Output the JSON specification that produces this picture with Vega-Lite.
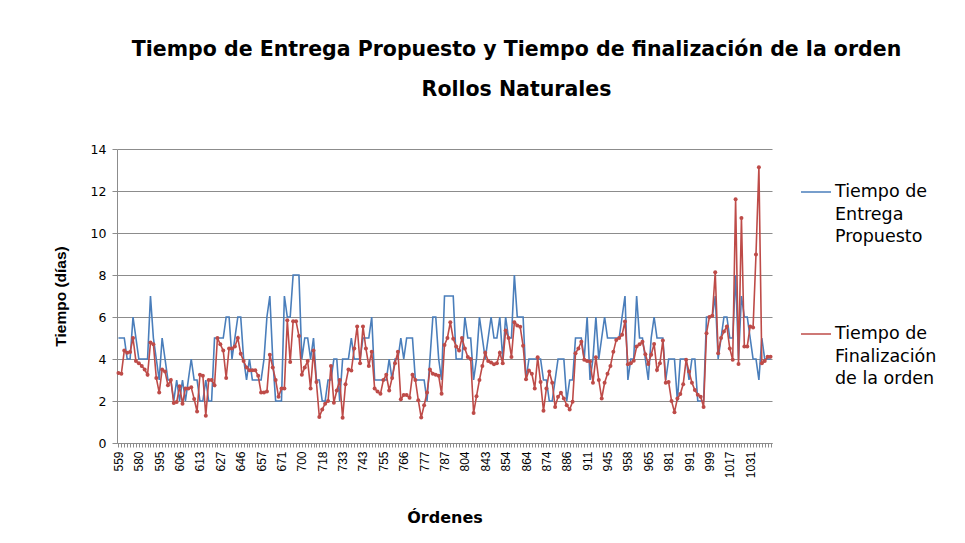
{
"$schema":"https://vega.github.io/schema/vega-lite/v6.json",
"width":655,"height":294,
"autosize":{"type":"none"},
"padding":{"left":117,"top":149,"right":193,"bottom":100},
"background":"white",
"config":{"font":"Liberation Sans","view":{"stroke":null}},
"title":{"text":["Tiempo de Entrega Propuesto y Tiempo de finalización de la orden","Rollos Naturales"],"font":"DejaVu Sans","fontSize":20.5,"fontWeight":"bold","color":"#000000","anchor":"middle","dx":72,"lineHeight":40,"offset":43},
"data":{"values":[
{"orden":559,"entrega":5,"finalizacion":3.33},{"orden":562,"entrega":5,"finalizacion":3.3},{"orden":565,"entrega":5,"finalizacion":4.4},{"orden":568,"entrega":4,"finalizacion":4.3},{"orden":571,"entrega":4,"finalizacion":4.33},{"orden":574,"entrega":6,"finalizacion":5.0},{"orden":577,"entrega":5,"finalizacion":3.9},
{"orden":580,"entrega":4,"finalizacion":3.8},{"orden":582,"entrega":4,"finalizacion":3.67},{"orden":584,"entrega":4,"finalizacion":3.5},{"orden":586,"entrega":4,"finalizacion":3.25},{"orden":588,"entrega":7,"finalizacion":4.78},{"orden":590,"entrega":5,"finalizacion":4.7},{"orden":593,"entrega":4,"finalizacion":3.1},
{"orden":595,"entrega":3,"finalizacion":2.4},{"orden":596,"entrega":5,"finalizacion":3.5},{"orden":598,"entrega":4,"finalizacion":3.4},{"orden":600,"entrega":3,"finalizacion":2.75},{"orden":601,"entrega":3,"finalizacion":3.0},{"orden":603,"entrega":2,"finalizacion":1.9},{"orden":604,"entrega":3,"finalizacion":1.95},
{"orden":606,"entrega":2,"finalizacion":2.7},{"orden":607,"entrega":3,"finalizacion":1.87},{"orden":608,"entrega":2,"finalizacion":2.6},{"orden":609,"entrega":3,"finalizacion":2.6},{"orden":610,"entrega":4,"finalizacion":2.65},{"orden":611,"entrega":3,"finalizacion":2.1},{"orden":612,"entrega":3,"finalizacion":1.5},
{"orden":613,"entrega":2,"finalizacion":3.25},{"orden":615,"entrega":2,"finalizacion":3.2},{"orden":617,"entrega":3,"finalizacion":1.3},{"orden":619,"entrega":2,"finalizacion":3.0},{"orden":621,"entrega":2,"finalizacion":3.0},{"orden":623,"entrega":5,"finalizacion":2.75},{"orden":625,"entrega":5,"finalizacion":5.0},
{"orden":627,"entrega":5,"finalizacion":4.7},{"orden":630,"entrega":5,"finalizacion":4.4},{"orden":632,"entrega":6,"finalizacion":3.1},{"orden":635,"entrega":6,"finalizacion":4.5},{"orden":638,"entrega":4,"finalizacion":4.5},{"orden":641,"entrega":5,"finalizacion":4.6},{"orden":643,"entrega":6,"finalizacion":5.0},
{"orden":646,"entrega":6,"finalizacion":4.25},{"orden":647,"entrega":4,"finalizacion":3.9},{"orden":649,"entrega":3,"finalizacion":3.6},{"orden":651,"entrega":4,"finalizacion":3.46},{"orden":652,"entrega":3,"finalizacion":3.46},{"orden":654,"entrega":3,"finalizacion":3.46},{"orden":655,"entrega":3,"finalizacion":3.2},
{"orden":657,"entrega":3,"finalizacion":2.4},{"orden":659,"entrega":4,"finalizacion":2.4},{"orden":661,"entrega":6,"finalizacion":2.45},{"orden":663,"entrega":7,"finalizacion":4.2},{"orden":665,"entrega":4,"finalizacion":3.6},{"orden":667,"entrega":2,"finalizacion":3.0},{"orden":669,"entrega":2,"finalizacion":2.2},
{"orden":671,"entrega":2,"finalizacion":2.6},{"orden":675,"entrega":7,"finalizacion":2.6},{"orden":679,"entrega":6,"finalizacion":5.84},{"orden":683,"entrega":6,"finalizacion":3.86},{"orden":687,"entrega":8,"finalizacion":5.8},{"orden":691,"entrega":8,"finalizacion":5.8},{"orden":695,"entrega":8,"finalizacion":5.1},
{"orden":700,"entrega":4,"finalizacion":3.25},{"orden":702,"entrega":5,"finalizacion":3.6},{"orden":705,"entrega":5,"finalizacion":3.9},{"orden":707,"entrega":4,"finalizacion":2.6},{"orden":710,"entrega":5,"finalizacion":4.4},{"orden":713,"entrega":3,"finalizacion":2.9},{"orden":715,"entrega":3,"finalizacion":1.24},
{"orden":718,"entrega":2,"finalizacion":1.6},{"orden":720,"entrega":2,"finalizacion":1.87},{"orden":722,"entrega":3,"finalizacion":2.0},{"orden":724,"entrega":3,"finalizacion":3.67},{"orden":726,"entrega":4,"finalizacion":1.92},{"orden":728,"entrega":4,"finalizacion":2.5},{"orden":731,"entrega":2,"finalizacion":3.0},
{"orden":733,"entrega":4,"finalizacion":1.2},{"orden":734,"entrega":4,"finalizacion":2.8},{"orden":736,"entrega":4,"finalizacion":3.5},{"orden":737,"entrega":5,"finalizacion":3.45},{"orden":739,"entrega":4,"finalizacion":4.5},{"orden":740,"entrega":4,"finalizacion":5.55},{"orden":742,"entrega":4,"finalizacion":3.8},
{"orden":743,"entrega":5,"finalizacion":5.55},{"orden":745,"entrega":5,"finalizacion":4.5},{"orden":746,"entrega":5,"finalizacion":3.67},{"orden":748,"entrega":6,"finalizacion":4.35},{"orden":750,"entrega":3,"finalizacion":2.6},{"orden":752,"entrega":3,"finalizacion":2.45},{"orden":753,"entrega":3,"finalizacion":2.34},
{"orden":755,"entrega":3,"finalizacion":3.0},{"orden":756,"entrega":3,"finalizacion":3.25},{"orden":758,"entrega":4,"finalizacion":2.5},{"orden":760,"entrega":3,"finalizacion":3.1},{"orden":761,"entrega":4,"finalizacion":3.8},{"orden":763,"entrega":4,"finalizacion":4.35},{"orden":764,"entrega":5,"finalizacion":2.08},
{"orden":766,"entrega":4,"finalizacion":2.28},{"orden":767,"entrega":5,"finalizacion":2.28},{"orden":769,"entrega":5,"finalizacion":2.15},{"orden":771,"entrega":5,"finalizacion":3.25},{"orden":772,"entrega":3,"finalizacion":3.0},{"orden":774,"entrega":3,"finalizacion":2.04},{"orden":775,"entrega":3,"finalizacion":1.21},
{"orden":777,"entrega":3,"finalizacion":1.8},{"orden":778,"entrega":2,"finalizacion":2.4},{"orden":780,"entrega":4,"finalizacion":3.5},{"orden":781,"entrega":6,"finalizacion":3.3},{"orden":783,"entrega":6,"finalizacion":3.25},{"orden":784,"entrega":4,"finalizacion":3.2},{"orden":786,"entrega":3,"finalizacion":2.34},
{"orden":787,"entrega":7,"finalizacion":4.67},{"orden":789,"entrega":7,"finalizacion":5.0},{"orden":792,"entrega":7,"finalizacion":5.75},{"orden":794,"entrega":7,"finalizacion":4.96},{"orden":796,"entrega":4,"finalizacion":4.6},{"orden":799,"entrega":4,"finalizacion":4.4},{"orden":801,"entrega":4,"finalizacion":5.0},
{"orden":804,"entrega":6,"finalizacion":4.5},{"orden":809,"entrega":5,"finalizacion":4.1},{"orden":815,"entrega":5,"finalizacion":4.0},{"orden":820,"entrega":3,"finalizacion":1.43},{"orden":826,"entrega":4,"finalizacion":2.23},{"orden":831,"entrega":6,"finalizacion":3.0},{"orden":837,"entrega":5,"finalizacion":3.67},
{"orden":843,"entrega":4,"finalizacion":4.3},{"orden":844,"entrega":5,"finalizacion":3.9},{"orden":846,"entrega":6,"finalizacion":3.83},{"orden":848,"entrega":5,"finalizacion":3.75},{"orden":849,"entrega":5,"finalizacion":3.8},{"orden":851,"entrega":6,"finalizacion":4.3},{"orden":852,"entrega":4,"finalizacion":3.8},
{"orden":854,"entrega":6,"finalizacion":5.36},{"orden":855,"entrega":5,"finalizacion":5.0},{"orden":857,"entrega":5,"finalizacion":4.1},{"orden":858,"entrega":8,"finalizacion":5.75},{"orden":860,"entrega":6,"finalizacion":5.6},{"orden":861,"entrega":6,"finalizacion":5.53},{"orden":863,"entrega":6,"finalizacion":4.63},
{"orden":864,"entrega":3,"finalizacion":3.03},{"orden":865,"entrega":4,"finalizacion":3.45},{"orden":867,"entrega":4,"finalizacion":3.3},{"orden":868,"entrega":4,"finalizacion":2.6},{"orden":870,"entrega":4,"finalizacion":4.08},{"orden":871,"entrega":4,"finalizacion":2.9},{"orden":873,"entrega":3,"finalizacion":1.53},
{"orden":874,"entrega":3,"finalizacion":2.6},{"orden":876,"entrega":2,"finalizacion":3.4},{"orden":877,"entrega":2,"finalizacion":2.87},{"orden":879,"entrega":3,"finalizacion":1.72},{"orden":881,"entrega":4,"finalizacion":2.2},{"orden":883,"entrega":4,"finalizacion":2.39},{"orden":884,"entrega":4,"finalizacion":2.12},
{"orden":886,"entrega":2,"finalizacion":1.8},{"orden":889,"entrega":3,"finalizacion":1.6},{"orden":893,"entrega":3,"finalizacion":1.96},{"orden":896,"entrega":5,"finalizacion":4.27},{"orden":900,"entrega":5,"finalizacion":4.5},{"orden":903,"entrega":5,"finalizacion":4.82},{"orden":907,"entrega":4,"finalizacion":3.96},
{"orden":911,"entrega":6,"finalizacion":3.9},{"orden":916,"entrega":3,"finalizacion":3.88},{"orden":920,"entrega":4,"finalizacion":2.87},{"orden":925,"entrega":6,"finalizacion":4.08},{"orden":930,"entrega":4,"finalizacion":3.0},{"orden":935,"entrega":5,"finalizacion":2.12},{"orden":940,"entrega":6,"finalizacion":2.87},
{"orden":945,"entrega":5,"finalizacion":3.3},{"orden":947,"entrega":5,"finalizacion":3.67},{"orden":949,"entrega":5,"finalizacion":4.34},{"orden":950,"entrega":5,"finalizacion":4.91},{"orden":952,"entrega":5,"finalizacion":5.0},{"orden":954,"entrega":6,"finalizacion":5.15},{"orden":956,"entrega":7,"finalizacion":5.79},
{"orden":958,"entrega":3,"finalizacion":3.75},{"orden":959,"entrega":4,"finalizacion":3.8},{"orden":960,"entrega":4,"finalizacion":3.92},{"orden":961,"entrega":7,"finalizacion":4.59},{"orden":962,"entrega":5,"finalizacion":4.7},{"orden":963,"entrega":5,"finalizacion":4.82},{"orden":964,"entrega":4,"finalizacion":4.23},
{"orden":965,"entrega":3,"finalizacion":3.76},{"orden":967,"entrega":5,"finalizacion":4.2},{"orden":969,"entrega":6,"finalizacion":4.72},{"orden":971,"entrega":5,"finalizacion":3.48},{"orden":974,"entrega":5,"finalizacion":3.8},{"orden":976,"entrega":5,"finalizacion":4.88},{"orden":978,"entrega":3,"finalizacion":2.87},
{"orden":981,"entrega":4,"finalizacion":2.9},{"orden":982,"entrega":4,"finalizacion":2.0},{"orden":984,"entrega":4,"finalizacion":1.47},{"orden":985,"entrega":2,"finalizacion":2.12},{"orden":987,"entrega":4,"finalizacion":2.33},{"orden":988,"entrega":4,"finalizacion":2.8},{"orden":990,"entrega":4,"finalizacion":3.96},
{"orden":991,"entrega":3,"finalizacion":3.4},{"orden":992,"entrega":4,"finalizacion":2.87},{"orden":993,"entrega":4,"finalizacion":2.52},{"orden":994,"entrega":2,"finalizacion":2.3},{"orden":995,"entrega":2,"finalizacion":2.2},{"orden":996,"entrega":2,"finalizacion":1.72},{"orden":997,"entrega":6,"finalizacion":5.23},
{"orden":999,"entrega":6,"finalizacion":6.0},{"orden":1001,"entrega":6,"finalizacion":6.06},{"orden":1004,"entrega":7,"finalizacion":8.13},{"orden":1006,"entrega":4,"finalizacion":4.27},{"orden":1009,"entrega":5,"finalizacion":5.0},{"orden":1012,"entrega":6,"finalizacion":5.31},{"orden":1014,"entrega":6,"finalizacion":5.55},
{"orden":1017,"entrega":5,"finalizacion":4.5},{"orden":1019,"entrega":5,"finalizacion":3.96},{"orden":1021,"entrega":8,"finalizacion":11.61},{"orden":1023,"entrega":4,"finalizacion":3.76},{"orden":1025,"entrega":7,"finalizacion":10.72},{"orden":1027,"entrega":6,"finalizacion":4.59},{"orden":1029,"entrega":6,"finalizacion":4.6},
{"orden":1031,"entrega":5,"finalizacion":5.55},{"orden":1033,"entrega":4,"finalizacion":5.5},{"orden":1035,"entrega":4,"finalizacion":8.98},{"orden":1037,"entrega":3,"finalizacion":13.13},{"orden":1039,"entrega":5,"finalizacion":3.8},{"orden":1041,"entrega":4,"finalizacion":3.9},{"orden":1043,"entrega":4,"finalizacion":4.11},{"orden":1045,"entrega":4,"finalizacion":4.11}
]},
"layer":[
{"transform":[{"fold":["entrega","finalizacion"]}],
 "mark":{"type":"line","strokeWidth":1.6},
 "encoding":{
  "x":{"field":"orden","type":"ordinal","title":"Órdenes","axis":{"labelAngle":270,"labelFontSize":12,"labelColor":"#000000","labelPadding":4,"labelOverlap":false,"labelExpr":"indexof([559,580,595,606,613,627,646,657,671,700,718,733,743,755,766,777,787,804,843,854,864,874,886,911,945,958,965,981,991,999,1017,1031], datum.value) >= 0 ? datum.label : ''","tickSize":4,"tickColor":"#8c8c8c","domainColor":"#8c8c8c","titleFont":"DejaVu Sans","titleFontSize":16,"titleFontWeight":"bold","titleColor":"#000000","titlePadding":32}},
  "y":{"field":"value","type":"quantitative","title":"Tiempo (días)","scale":{"domain":[0,14]},"axis":{"values":[0,2,4,6,8,10,12,14],"grid":true,"gridColor":"#8c8c8c","gridWidth":1.2,"labelFont":"DejaVu Sans","labelFontSize":12.5,"labelColor":"#000000","tickSize":5,"tickColor":"#8c8c8c","domainColor":"#8c8c8c","labelPadding":6,"titleFont":"Liberation Sans","titleFontSize":15.5,"titleFontWeight":"bold","titleColor":"#000000","titlePadding":22}},
  "color":{"field":"key","type":"nominal","scale":{"domain":["entrega","finalizacion"],"range":["#4A7EBB","#BE4B48"]},"legend":{"orient":"none","legendX":683,"legendY":27,"title":null,"symbolType":"stroke","symbolSize":900,"symbolStrokeWidth":1.5,"labelFont":"DejaVu Sans","labelFontSize":17.5,"labelColor":"#000000","labelLimit":0,"rowPadding":72,"labelOffset":3,"labelExpr":"datum.label == 'entrega' ? ['Tiempo de','Entrega','Propuesto'] : ['Tiempo de','Finalización','de la orden']","encode":{"labels":{"update":{"lineHeight":{"value":22.5}}}}}}
 }},
{"mark":{"type":"point","filled":true,"size":16,"color":"#BE4B48","opacity":1},
 "encoding":{
  "x":{"field":"orden","type":"ordinal","title":"Órdenes"},
  "y":{"field":"finalizacion","type":"quantitative","title":"Tiempo (días)"}
 }}
]
}
